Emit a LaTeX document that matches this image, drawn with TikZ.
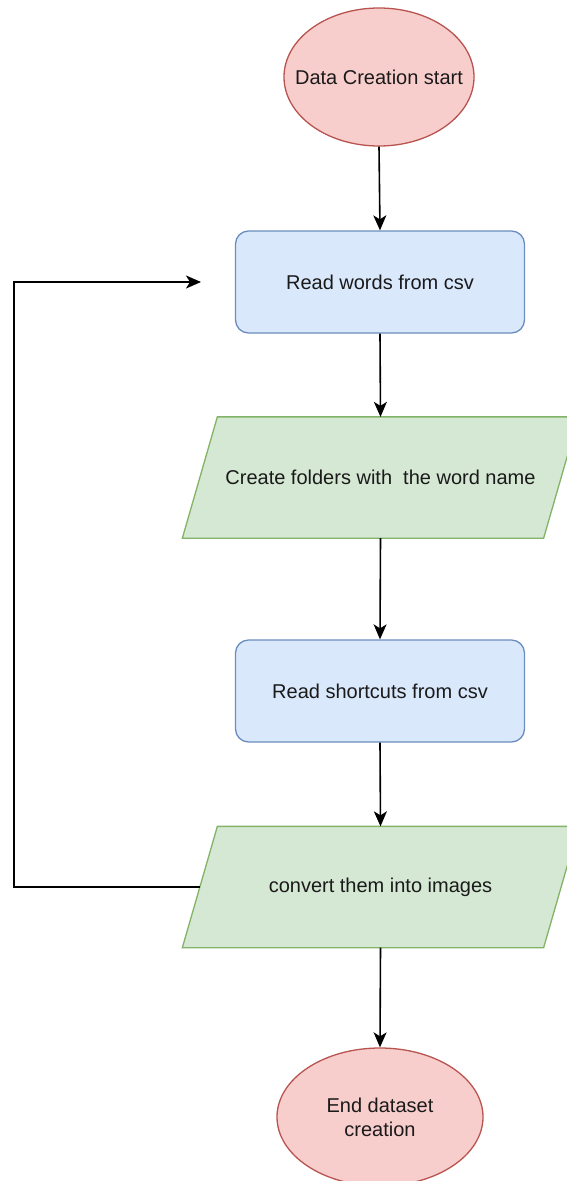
\documentclass[tikz,border=0pt]{standalone}
\usepackage{fontspec}
\setmainfont{Liberation Sans}
\usetikzlibrary{shapes.geometric,arrows.meta,backgrounds}
\definecolor{redfill}{HTML}{F8CECC}
\definecolor{redline}{HTML}{B85450}
\definecolor{bluefill}{HTML}{DAE8FC}
\definecolor{blueline}{HTML}{6C8EBF}
\definecolor{greenfill}{HTML}{D5E8D4}
\definecolor{greenline}{HTML}{82B366}
\definecolor{ink}{HTML}{1A1A1A}
\tikzset{
  base/.style={font=\fontsize{20}{24}\selectfont, text=ink, line width=1.3pt, inner sep=0pt, align=center},
  terminal/.style={base, ellipse, fill=redfill, draw=redline},
  process/.style={base, rectangle, rounded corners=13pt, fill=bluefill, draw=blueline,
    minimum width=289pt, minimum height=102pt},
  % text box of a slanted input/output block; the outline is added behind it
  io/.style={base, rectangle, minimum width=395pt, minimum height=120pt},
  ioshape/.style={fill=greenfill, draw=greenline, line width=1.3pt, line join=miter},
  arr/.style={line width=1.6pt, draw=black, -{Stealth[length=15pt,width=13pt,inset=4pt]}}
}
\newcommand{\slantbox}[1]{%
  \begin{scope}[on background layer]
    \path[ioshape] (#1.south west) -- ([xshift=-35pt]#1.south east) -- (#1.north east)
      -- ([xshift=35pt]#1.north west) -- cycle;
  \end{scope}}
\begin{document}
\begin{tikzpicture}[x=1pt,y=1pt]
\useasboundingbox (0,0) rectangle (566,-1181);
\clip (0,0) rectangle (566,-1181);

\node[terminal, minimum width=190pt, minimum height=138pt] (start) at (379,-77) {\makebox[0pt]{Data Creation start}};
\node[process] (read) at (380,-282) {Read words from csv};
\node[io] (folders) at (380.5,-477.5) {Create folders with\ \ the word name};
\slantbox{folders}
\node[process] (short) at (380,-691) {Read shortcuts from csv};
\node[io] (conv) at (380.5,-887) {convert them into images};
\slantbox{conv}
\node[terminal, minimum width=206pt, minimum height=138pt] (end) at (380,-1117) {End dataset\\creation};

\coordinate (lft) at (14,-887);
\coordinate (back) at (201,-282);

\draw[arr] (start.south) -- (read.north);
\draw[arr] (read.south) -- (folders.north);
\draw[arr] (folders.south) -- (short.north);
\draw[arr] (short.south) -- (conv.north);
\draw[arr] (conv.south) -- (end.north);
\draw[arr] ([xshift=17.5pt]conv.west) -- (lft) |- (back);
\end{tikzpicture}
\end{document}
